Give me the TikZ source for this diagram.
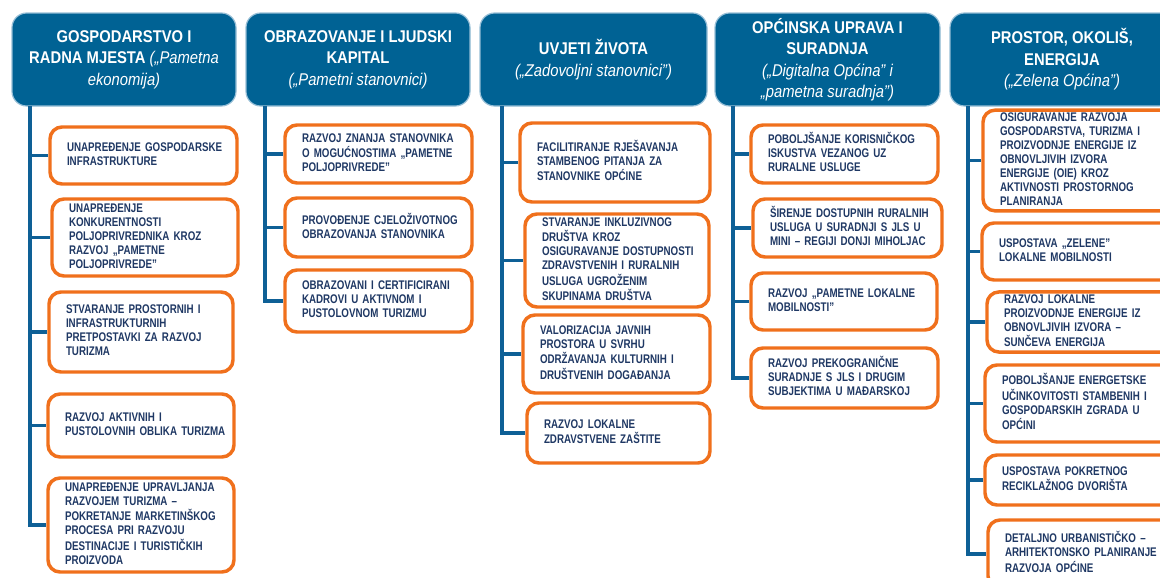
\documentclass[tikz,border=0pt]{standalone}
\usepackage{fontspec}
\setmainfont{Liberation Sans}
\newfontfamily\bxfont[FakeStretch=0.78]{Liberation Sans}
\newfontfamily\hdfont[FakeStretch=0.87]{Liberation Sans}
\definecolor{hblue}{RGB}{0,98,148}
\definecolor{hedge}{RGB}{150,190,214}
\definecolor{cblue}{RGB}{14,96,150}
\definecolor{tnavy}{RGB}{31,56,100}
\definecolor{orng}{RGB}{240,112,28}
\tikzset{
  obx/.style={draw=orng, line width=2.6pt, fill=white, rounded corners=9pt,
    inner xsep=12.75pt, inner ysep=1pt, align=left, text=tnavy,
    font=\bxfont\bfseries\fontsize{9.4pt}{10.5pt}\selectfont},
  hbx/.style={draw=hedge, line width=0.9pt, fill=hblue, rounded corners=11pt,
    inner xsep=3pt, inner ysep=1pt, align=center, text=white,
    font=\hdfont\bfseries\fontsize{12.75pt}{16.1pt}\selectfont},
  conn/.style={draw=cblue, line width=2.3pt}
}
\newcommand\obox[6]{%
  \pgfmathsetmacro\cx{(#2+#4)/2}\pgfmathsetmacro\cy{(#3+#5)/2}%
  \pgfmathsetmacro\ww{(#4-#2)*0.75}\pgfmathsetmacro\hh{(#5-#3)*0.75}%
  \pgfmathsetmacro\tw{(#4-#2-34)*0.75}%
  \node[obx, minimum width=\ww pt, minimum height=\hh pt, text width=\tw pt] (#1) at (\cx,\cy)
    {\begin{tabular}{@{}l@{}}#6\end{tabular}};}
\newcommand\hdr[6]{%
  \pgfmathsetmacro\cx{(#2+#4)/2}\pgfmathsetmacro\cy{(#3+#5)/2}%
  \pgfmathsetmacro\ww{(#4-#2)*0.75}\pgfmathsetmacro\hh{(#5-#3)*0.75}%
  \node[hbx, minimum width=\ww pt, minimum height=\hh pt] (#1) at (\cx,\cy) {#6};}
\newcommand\iq[1]{{\mdseries\itshape #1}}
\begin{document}
\begin{tikzpicture}[x=0.75pt,y=-0.75pt]
\useasboundingbox (0,0) rectangle (1160,578);
\clip (0,0) rectangle (1160,578);
% headers
\hdr{h1}{12}{13}{236}{106}{GOSPODARSTVO I\\RADNA MJESTA \iq{(„Pametna}\\\iq{ekonomija)}}
\hdr{h2}{246}{13}{470}{106}{OBRAZOVANJE I LJUDSKI\\KAPITAL\\\iq{(„Pametni stanovnici)}}
\hdr{h3}{480}{13}{707}{106}{UVJETI ŽIVOTA\\\iq{(„Zadovoljni stanovnici”)}}
\hdr{h4}{715}{13}{940}{106}{OPĆINSKA UPRAVA I\\SURADNJA\\\iq{(„Digitalna Općina” i}\\\iq{„pametna suradnja”)}}
\hdr{h5}{950}{13}{1174}{106}{PROSTOR, OKOLIŠ,\\ENERGIJA\\\iq{(„Zelena Općina”)}}
% column 1
\obox{b1}{50}{127}{237}{184}{UNAPREĐENJE GOSPODARSKE\\INFRASTRUKTURE}
\obox{b2}{52}{199}{238}{276}{UNAPREĐENJE\\KONKURENTNOSTI\\POLJOPRIVREDNIKA KROZ\\RAZVOJ „PAMETNE\\POLJOPRIVREDE”}
\obox{b3}{49}{292}{233}{372}{STVARANJE PROSTORNIH I\\INFRASTRUKTURNIH\\PRETPOSTAVKI ZA RAZVOJ\\TURIZMA}
\obox{b4}{48}{394}{234}{457}{RAZVOJ AKTIVNIH I\\PUSTOLOVNIH OBLIKA TURIZMA}
\obox{b5}{48}{478}{234}{572}{UNAPREĐENJE UPRAVLJANJA\\RAZVOJEM TURIZMA –\\POKRETANJE MARKETINŠKOG\\PROCESA PRI RAZVOJU\\DESTINACIJE I TURISTIČKIH\\PROIZVODA}
% column 2
\obox{c1}{285}{125}{472}{183}{RAZVOJ ZNANJA STANOVNIKA\\O MOGUĆNOSTIMA „PAMETNE\\POLJOPRIVREDE”}
\obox{c2}{285}{198}{472}{257}{PROVOĐENJE CJELOŽIVOTNOG\\OBRAZOVANJA STANOVNIKA}
\obox{c3}{285}{270}{472}{332}{OBRAZOVANI I CERTIFICIRANI\\KADROVI U AKTIVNOM I\\PUSTOLOVNOM TURIZMU}
% column 3
\obox{d1}{520}{123}{710}{202}{FACILITIRANJE RJEŠAVANJA\\STAMBENOG PITANJA ZA\\STANOVNIKE OPĆINE}
\obox{d2}{525}{214}{709}{307}{STVARANJE INKLUZIVNOG\\DRUŠTVA KROZ\\OSIGURAVANJE DOSTUPNOSTI\\ZDRAVSTVENIH I RURALNIH\\USLUGA UGROŽENIM\\SKUPINAMA DRUŠTVA}
\obox{d3}{523}{315}{710}{393}{VALORIZACIJA JAVNIH\\PROSTORA U SVRHU\\ODRŽAVANJA KULTURNIH I\\DRUŠTVENIH DOGAĐANJA}
\obox{d4}{527}{403}{710}{463}{RAZVOJ LOKALNE\\ZDRAVSTVENE ZAŠTITE}
% column 4
\obox{e1}{751}{125}{938}{183}{POBOLJŠANJE KORISNIČKOG\\ISKUSTVA VEZANOG UZ\\RURALNE USLUGE}
\obox{e2}{753}{199}{942}{257}{ŠIRENJE DOSTUPNIH RURALNIH\\USLUGA U SURADNJI S JLS U\\MINI – REGIJI DONJI MIHOLJAC}
\obox{e3}{751}{273}{937}{330}{RAZVOJ „PAMETNE LOKALNE\\MOBILNOSTI”}
\obox{e4}{751}{348}{938}{408}{RAZVOJ PREKOGRANIČNE\\SURADNJE S JLS I DRUGIM\\SUBJEKTIMA U MAĐARSKOJ}
% column 5
\obox{f1}{983}{112}{1176}{209}{OSIGURAVANJE RAZVOJA\\GOSPODARSTVA, TURIZMA I\\PROIZVODNJE ENERGIJE IZ\\OBNOVLJIVIH IZVORA\\ENERGIJE (OIE) KROZ\\AKTIVNOSTI PROSTORNOG\\PLANIRANJA}
\obox{f2}{982}{223}{1176}{280}{USPOSTAVA „ZELENE”\\LOKALNE MOBILNOSTI}
\obox{f3}{987}{292}{1176}{352}{RAZVOJ LOKALNE\\PROIZVODNJE ENERGIJE IZ\\OBNOVLJIVIH IZVORA –\\SUNČEVA ENERGIJA}
\obox{f4}{985}{365}{1176}{442}{POBOLJŠANJE ENERGETSKE\\UČINKOVITOSTI STAMBENIH I\\GOSPODARSKIH ZGRADA U\\OPĆINI}
\obox{f5}{985}{455}{1176}{505}{USPOSTAVA POKRETNOG\\RECIKLAŽNOG DVORIŠTA}
\obox{f6}{988}{520}{1176}{588}{DETALJNO URBANISTIČKO –\\ARHITEKTONSKO PLANIRANJE\\RAZVOJA OPĆINE}
% connectors
\coordinate (v1) at (30,106);
\coordinate (v2) at (265,106);
\coordinate (v3) at (502,106);
\coordinate (v4) at (733,106);
\coordinate (v5) at (968,106);
\draw[conn] (v1) |- (b5.west);
\foreach \b in {b1,b2,b3,b4} \draw[conn] (v1 |- \b.west) -- (\b.west);
\draw[conn] (v2) |- (c3.west);
\foreach \b in {c1,c2} \draw[conn] (v2 |- \b.west) -- (\b.west);
\draw[conn] (v3) |- (d4.west);
\foreach \b in {d1,d2,d3} \draw[conn] (v3 |- \b.west) -- (\b.west);
\draw[conn] (v4) |- (e4.west);
\foreach \b in {e1,e2,e3} \draw[conn] (v4 |- \b.west) -- (\b.west);
\draw[conn] (v5) |- (f6.west);
\foreach \b in {f1,f2,f3,f4,f5} \draw[conn] (v5 |- \b.west) -- (\b.west);
\end{tikzpicture}
\end{document}
